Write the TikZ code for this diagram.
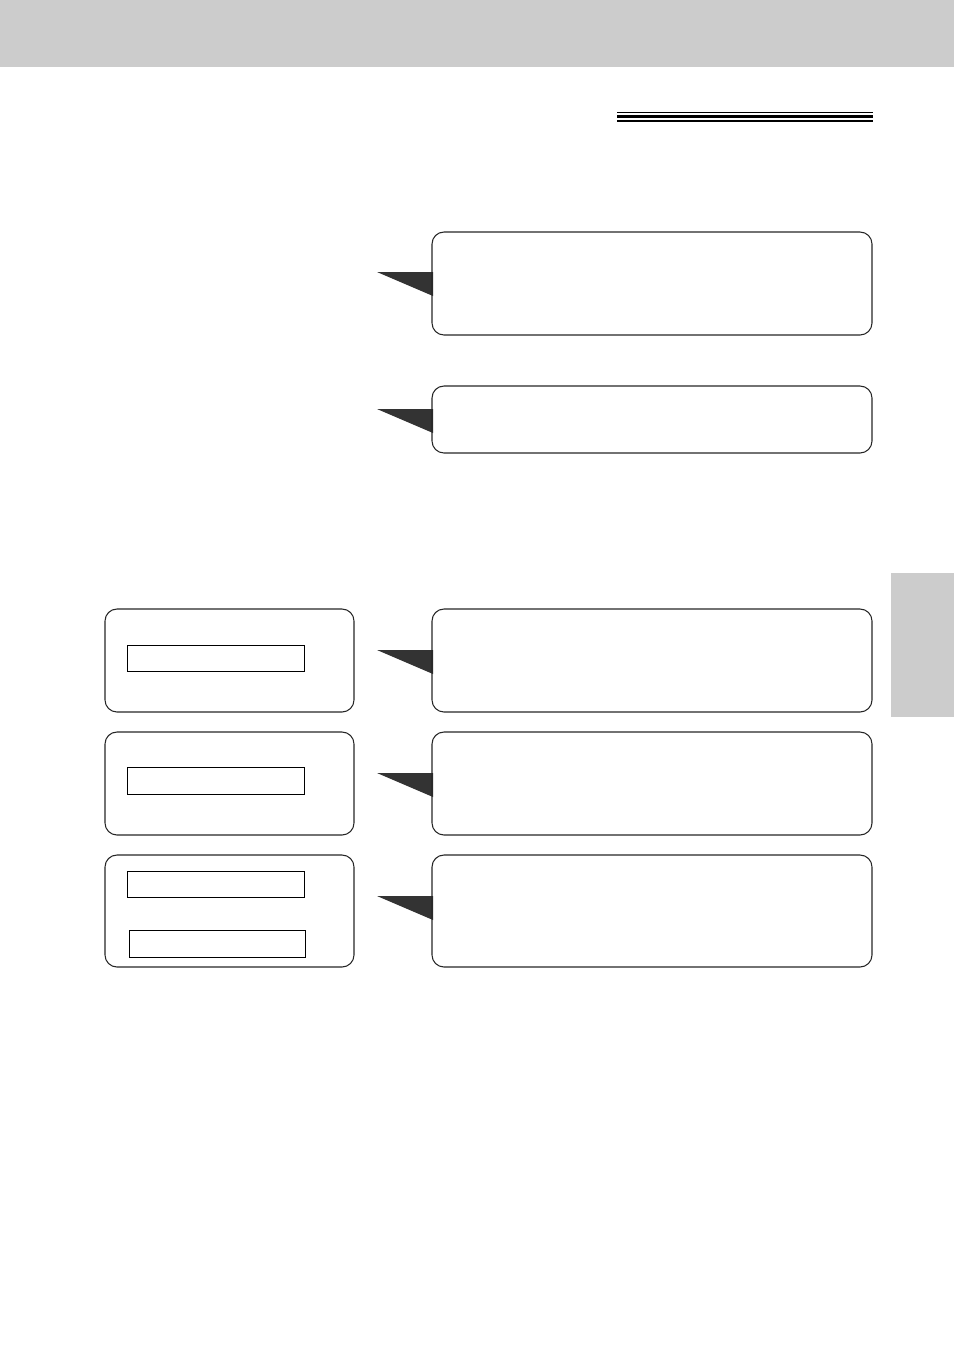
\documentclass[tikz,border=0pt]{standalone}
\begin{document}
\begin{tikzpicture}[x=0.75pt,y=-0.75pt,
  panel/.style={draw=black!85,line width=0.8pt,rounded corners=9pt},
  innerbox/.style={draw=black,line width=0.7pt},
  wedge/.style={fill=black!80,draw=none},
  tabfill/.style={fill=black!20,draw=none}]
\useasboundingbox (0,0) rectangle (954,1350);
% header band and side tab
\fill[tabfill] (0,0) rectangle (954,67);
\fill[tabfill] (891,573) rectangle (954,717);
% title rule
\draw[line width=0.9pt] (617,112.5) -- (873,112.5);
\draw[line width=2.4pt] (617,116.5) -- (873,116.5);
\draw[line width=1.3pt] (617,120.8) -- (873,120.8);
% callout boxes on the right
\foreach \n/\t/\b/\p in {c1/232/335/272, c2/386/453/409, c3/609/712/650, c4/732/835/773, c5/855/967/896}{
  \fill[wedge] (377,\p) -- (433,\p) -- (433,\p+24) -- cycle;
  \draw[panel] (432,\t) rectangle (872,\b);
}
% left panels
\draw[panel] (105,609) rectangle (354,712);
\draw[innerbox] (127,645) rectangle (304,671);
\draw[panel] (105,732) rectangle (354,835);
\draw[innerbox] (127,767.5) rectangle (304,794);
\draw[panel] (105,855) rectangle (354,967);
\draw[innerbox] (127,871.5) rectangle (304,897.5);
\draw[innerbox] (129,930.5) rectangle (305,957);
\end{tikzpicture}
\end{document}
